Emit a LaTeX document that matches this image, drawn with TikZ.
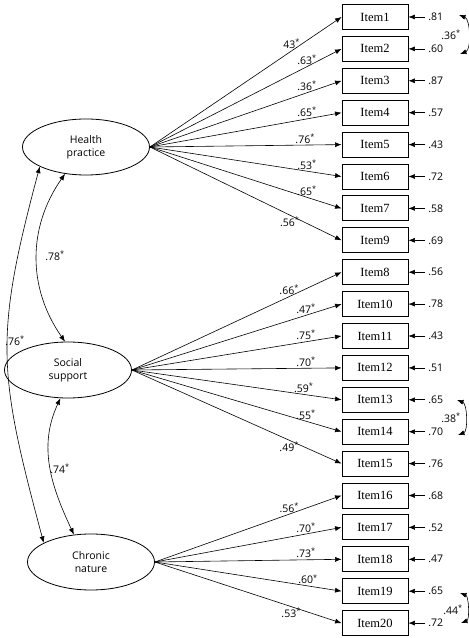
\documentclass[tikz,border=0pt]{standalone}
\usepackage{fontspec}
\setmainfont{Open Sans}
\newfontfamily\itemfont{Liberation Serif}
\usetikzlibrary{arrows.meta,shapes}
\newcommand{\sig}{\textsuperscript{*}}

\begin{document}
\begin{tikzpicture}[x=1pt,y=1pt,>={Latex[length=6.5pt,width=5pt]},line width=0.6pt,
  latent/.style={ellipse,draw,line width=0.8pt,minimum width=127pt,minimum height=56pt,inner sep=0pt,align=center,font=\fontsize{10.5}{13}\selectfont},
  item/.style={rectangle,draw,line width=0.85pt,minimum width=66pt,minimum height=25pt,inner sep=0pt,font=\itemfont\fontsize{12.5}{14}\selectfont},
  coef/.style={inner sep=1.5pt,font=\fontsize{10.5}{12}\selectfont},
  err/.style={anchor=west,inner sep=3pt,font=\fontsize{10.5}{12}\selectfont}]
  \useasboundingbox (0,0) rectangle (469,638);
  \node[latent] (hp) at (86,491) {Health\\practice};
  \node[latent] (ss) at (68,268) {Social\\support};
  \node[latent] (cn) at (91,76) {Chronic\\nature};
  \node[item] (i1) at (375,621) {Item1};
  \node[item] (i2) at (375,589.1) {Item2};
  \node[item] (i3) at (375,557.2) {Item3};
  \node[item] (i4) at (375,525.3) {Item4};
  \node[item] (i5) at (375,493.4) {Item5};
  \node[item] (i6) at (375,461.5) {Item6};
  \node[item] (i7) at (375,429.6) {Item7};
  \node[item] (i9) at (375,397.7) {Item9};
  \node[item] (i8) at (375,365.8) {Item8};
  \node[item] (i10) at (375,333.9) {Item10};
  \node[item] (i11) at (375,302) {Item11};
  \node[item] (i12) at (375,270.1) {Item12};
  \node[item] (i13) at (375,238.2) {Item13};
  \node[item] (i14) at (375,206.3) {Item14};
  \node[item] (i15) at (375,174.4) {Item15};
  \node[item] (i16) at (375,142.5) {Item16};
  \node[item] (i17) at (375,110.6) {Item17};
  \node[item] (i18) at (375,78.7) {Item18};
  \node[item] (i19) at (375,46.8) {Item19};
  \node[item] (i20) at (375,14.9) {Item20};
  \draw[->] (hp.east) -- node[coef,above,pos=0.74] (l1) {43\sig} (i1.west);
  \draw[->] (hp.east) -- node[coef,above,pos=0.82] (l2) {.63\sig} (i2.west);
  \draw[->] (hp.east) -- node[coef,above,pos=0.82] (l3) {.36\sig} (i3.west);
  \draw[->] (hp.east) -- node[coef,above,pos=0.82] (l4) {.65\sig} (i4.west);
  \draw[->] (hp.east) -- node[coef,above,pos=0.81] (l5) {.76\sig} (i5.west);
  \draw[->] (hp.east) -- node[coef,above,pos=0.82] (l6) {.53\sig} (i6.west);
  \draw[->] (hp.east) -- node[coef,above,pos=0.82] (l7) {.65\sig} (i7.west);
  \draw[->] (hp.east) -- node[coef,below,pos=0.73] (l9) {.56\sig} (i9.west);
  \draw[->] (ss.east) -- node[coef,above,pos=0.75] (l8) {.66\sig} (i8.west);
  \draw[->] (ss.east) -- node[coef,above,pos=0.83] (l10) {.47\sig} (i10.west);
  \draw[->] (ss.east) -- node[coef,above,pos=0.83] (l11) {.75\sig} (i11.west);
  \draw[->] (ss.east) -- node[coef,above,pos=0.83] (l12) {.70\sig} (i12.west);
  \draw[->] (ss.east) -- node[coef,above,pos=0.82] (l13) {.59\sig} (i13.west);
  \draw[->] (ss.east) -- node[coef,above,pos=0.83] (l14) {.55\sig} (i14.west);
  \draw[->] (ss.east) -- node[coef,below,pos=0.75] (l15) {.49\sig} (i15.west);
  \draw[->] (cn.east) -- node[coef,above,pos=0.72] (l16) {.56\sig} (i16.west);
  \draw[->] (cn.east) -- node[coef,above,pos=0.81] (l17) {.70\sig} (i17.west);
  \draw[->] (cn.east) -- node[coef,above,pos=0.81] (l18) {.73\sig} (i18.west);
  \draw[->] (cn.east) -- node[coef,above,pos=0.82] (l19) {.60\sig} (i19.west);
  \draw[->] (cn.east) -- node[coef,below,pos=0.73] (l20) {.53\sig} (i20.west);
  \node[err] (e1) at (425,621) {.81};
  \node[err] (e2) at (425,589.1) {.60};
  \node[err] (e3) at (425,557.2) {.87};
  \node[err] (e4) at (425,525.3) {.57};
  \node[err] (e5) at (425,493.4) {.43};
  \node[err] (e6) at (425,461.5) {.72};
  \node[err] (e7) at (425,429.6) {.58};
  \node[err] (e9) at (425,397.7) {.69};
  \node[err] (e8) at (425,365.8) {.56};
  \node[err] (e10) at (425,333.9) {.78};
  \node[err] (e11) at (425,302) {.43};
  \node[err] (e12) at (425,270.1) {.51};
  \node[err] (e13) at (425,238.2) {.65};
  \node[err] (e14) at (425,206.3) {.70};
  \node[err] (e15) at (425,174.4) {.76};
  \node[err] (e16) at (425,142.5) {.68};
  \node[err] (e17) at (425,110.6) {.52};
  \node[err] (e18) at (425,78.7) {.47};
  \node[err] (e19) at (425,46.8) {.65};
  \node[err] (e20) at (425,14.9) {.72};
  \draw[->] (e1) -- (i1);
  \draw[->] (e2) -- (i2);
  \draw[->] (e3) -- (i3);
  \draw[->] (e4) -- (i4);
  \draw[->] (e5) -- (i5);
  \draw[->] (e6) -- (i6);
  \draw[->] (e7) -- (i7);
  \draw[->] (e9) -- (i9);
  \draw[->] (e8) -- (i8);
  \draw[->] (e10) -- (i10);
  \draw[->] (e11) -- (i11);
  \draw[->] (e12) -- (i12);
  \draw[->] (e13) -- (i13);
  \draw[->] (e14) -- (i14);
  \draw[->] (e15) -- (i15);
  \draw[->] (e16) -- (i16);
  \draw[->] (e17) -- (i17);
  \draw[->] (e18) -- (i18);
  \draw[->] (e19) -- (i19);
  \draw[->] (e20) -- (i20);
  \coordinate (r1) at (459,623);
  \coordinate (r2) at (460,584);
  \coordinate (r13) at (457,238);
  \coordinate (r14) at (458,203);
  \coordinate (r19) at (460,45);
  \coordinate (r20) at (461,15);
  \draw[<->] (r1) to[out=-20,in=20,looseness=0.8] (r2);
  \draw[<->] (r13) to[out=-20,in=20,looseness=0.8] (r14);
  \draw[<->] (r19) to[out=-20,in=20,looseness=0.8] (r20);
  \node[coef] (k1) at (451,603) {.36\sig};
  \node[coef] (k13) at (451,220) {.38\sig};
  \node[coef] (k19) at (453,28) {.44\sig};
  \draw[<->] (hp.203) to[out=255,in=105,looseness=1.2] (cn.158);
  \draw[<->] (hp.232) to[out=235,in=125] (ss.96);
  \draw[<->] (ss.255) to[out=245,in=115] (cn.122);
  \node[coef] (c1) at (15,297) {.76\sig};
  \node[coef] (c2) at (55,382) {.78\sig};
  \node[coef] (c3) at (60,169) {.74\sig};
\end{tikzpicture}
\end{document}
